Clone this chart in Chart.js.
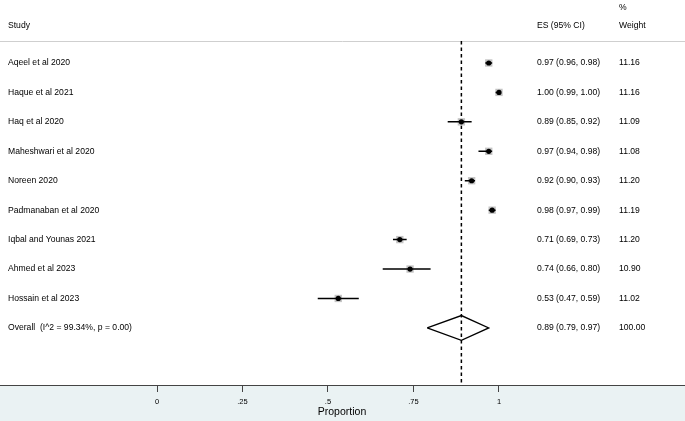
<!DOCTYPE html>
<html>
<head>
<meta charset="utf-8">
<script src="https://cdn.jsdelivr.net/npm/chart.js@4.4.1/dist/chart.umd.min.js"></script>
<style>
  html, body { margin: 0; padding: 0; background: #fff; }
  #wrap { width: 685px; height: 421px; position: relative; }
</style>
</head>
<body>
<div id="wrap"><canvas id="forest"></canvas></div>
<script>
// forest plot data
const studies = ['Aqeel et al 2020', 'Haque et al 2021', 'Haq et al 2020', 'Maheshwari et al 2020',
  'Noreen 2020', 'Padmanaban et al 2020', 'Iqbal and Younas 2021', 'Ahmed et al 2023', 'Hossain et al 2023'];
const es = [0.97, 1.00, 0.89, 0.97, 0.92, 0.98, 0.71, 0.74, 0.53];
const ciLow = [0.96, 0.99, 0.85, 0.94, 0.90, 0.97, 0.69, 0.66, 0.47];
const ciHigh = [0.98, 1.00, 0.92, 0.98, 0.93, 0.99, 0.73, 0.80, 0.59];
const weights = ['11.16', '11.16', '11.09', '11.08', '11.20', '11.19', '11.20', '10.90', '11.02'];
const overallLabel = 'Overall  (I^2 = 99.34%, p = 0.00)';
const overall = { es: 0.89, lo: 0.79, hi: 0.97, weight: '100.00' };
const xTicks = [0, 0.25, 0.5, 0.75, 1];
const xTitle = 'Proportion';

const FONT = "'Liberation Sans', Arial, Helvetica, sans-serif";
const fmt = v => v.toFixed(2);
const overallRow = studies.length;

// CI segments separated by gaps
const ciData = [];
studies.forEach((s, i) => {
  ciData.push({ x: ciLow[i], y: i }, { x: ciHigh[i], y: i }, { x: ciHigh[i], y: null });
});

const points = studies.map((s, i) => ({ x: es[i], y: i }));

const diamond = [
  { x: overall.lo, y: overallRow },
  { x: overall.es, y: overallRow - 0.42 },
  { x: overall.hi, y: overallRow },
  { x: overall.es, y: overallRow + 0.42 },
  { x: overall.lo, y: overallRow },
];

const tablePlugin = {
  id: 'table',
  beforeDraw(chart) {
    const c = chart.ctx, a = chart.chartArea;
    c.save();
    c.fillStyle = '#eaf2f3';
    c.fillRect(0, a.bottom, chart.width, chart.height - a.bottom);
    c.strokeStyle = '#cfcfcf';
    c.lineWidth = 1;
    c.beginPath();
    c.moveTo(0, 41.5);
    c.lineTo(chart.width, 41.5);
    c.stroke();
    c.restore();
  },
  afterDraw(chart) {
    const c = chart.ctx, y = chart.scales.y;
    c.save();
    c.fillStyle = '#000';
    c.font = '8.6px ' + FONT;
    c.textBaseline = 'middle';
    c.fillText('%', 619, 8);
    c.fillText('Study', 8, 26);
    c.fillText('ES (95% CI)', 537, 26);
    c.fillText('Weight', 619, 26);
    studies.forEach((s, i) => {
      const py = y.getPixelForValue(i);
      c.fillText(s, 8, py);
      c.fillText(`${fmt(es[i])} (${fmt(ciLow[i])}, ${fmt(ciHigh[i])})`, 537, py);
      c.fillText(weights[i], 619, py);
    });
    const oy = y.getPixelForValue(overallRow);
    c.fillText(overallLabel, 8, oy);
    c.fillText(`${fmt(overall.es)} (${fmt(overall.lo)}, ${fmt(overall.hi)})`, 537, oy);
    c.fillText(overall.weight, 619, oy);
    // axis title
    c.textAlign = 'center';
    c.font = '10.5px ' + FONT;
    c.fillText(xTitle, 342, 412);
    c.restore();
  },
};

new Chart(document.getElementById('forest'), {
  type: 'scatter',
  data: {
    datasets: [
      {
        // study estimates
        data: points,
        pointStyle: 'circle',
        pointRadius: 2.6,
        backgroundColor: '#000',
        borderWidth: 0,
      },
      {
        data: ciData,
        showLine: true,
        spanGaps: false,
        borderColor: '#000',
        borderWidth: 1.5,
        pointRadius: 0,
      },
      {
        // weight boxes
        data: points,
        pointStyle: 'rect',
        pointRadius: 5.2,
        backgroundColor: '#c4c4c4',
        borderWidth: 0,
      },
      {
        data: diamond,
        showLine: true,
        borderColor: '#000',
        borderWidth: 1.3,
        pointRadius: 0,
        tension: 0,
      },
      {
        // reference line at overall estimate
        data: [{ x: overall.es, y: -0.75 }, { x: overall.es, y: 10.94 }],
        showLine: true,
        borderColor: '#000',
        borderWidth: 1.5,
        borderDash: [3.5, 3],
        pointRadius: 0,
      },
    ],
  },
  options: {
    responsive: true,
    maintainAspectRatio: false,
    animation: false,
    layout: { padding: 0, autoPadding: false },
    plugins: { legend: { display: false }, tooltip: { enabled: false } },
    scales: {
      x: {
        type: 'linear',
        min: -157 / 342,
        max: (685 - 157) / 342,
        afterBuildTicks: s => { s.ticks = xTicks.map(v => ({ value: v })); },
        afterFit: s => { s.height = 36; },
        ticks: {
          font: { family: FONT, size: 7.5 },
          color: '#000',
          padding: 5,
          maxRotation: 0,
          callback: v => v === 0 || v === 1 ? String(v) : String(v).replace(/^0/, ''),
        },
        grid: { drawOnChartArea: false, tickLength: 7, color: '#444', lineWidth: 1 },
        border: { color: '#444', width: 1 },
      },
      y: {
        display: false,
        reverse: true,
        min: -2.14,
        max: 10.94,
      },
    },
  },
  plugins: [tablePlugin],
});
</script>
</body>
</html>
